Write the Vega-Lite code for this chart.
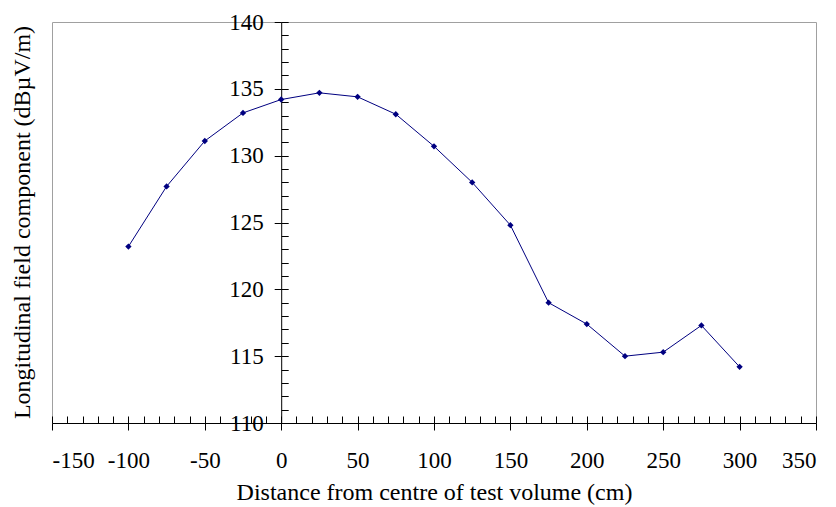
{
  "$schema": "https://vega.github.io/schema/vega-lite/v6.json",
  "width": 764,
  "height": 401,
  "autosize": "none",
  "padding": {"left": 52, "top": 22, "right": 20, "bottom": 84},
  "background": "white",
  "data": {
    "values": [
      {"distance": -100, "field": 123.2},
      {"distance": -75, "field": 127.7},
      {"distance": -50, "field": 131.1},
      {"distance": -25, "field": 133.2},
      {"distance": 0, "field": 134.2},
      {"distance": 25, "field": 134.7},
      {"distance": 50, "field": 134.4},
      {"distance": 75, "field": 133.1},
      {"distance": 100, "field": 130.7},
      {"distance": 125, "field": 128.0},
      {"distance": 150, "field": 124.8},
      {"distance": 175, "field": 119.0},
      {"distance": 200, "field": 117.4},
      {"distance": 225, "field": 115.0},
      {"distance": 250, "field": 115.3},
      {"distance": 275, "field": 117.3},
      {"distance": 300, "field": 114.2}
    ]
  },
  "layer": [
    {
      "mark": {"type": "line", "color": "#000080", "strokeWidth": 1},
      "encoding": {
        "x": {
          "field": "distance",
          "type": "quantitative",
          "scale": {"domain": [-150, 350], "nice": false},
          "axis": {
            "orient": "bottom",
            "values": [-150, -100, -50, 0, 50, 100, 150, 200, 250, 300, 350],
            "labelExpr": "'' + datum.value",
            "title": "Distance from centre of test volume (cm)",
            "tickSize": 7,
            "labelPadding": 19,
            "titlePadding": 8,
            "labelFont": "Liberation Serif",
            "labelFontSize": 23,
            "titleFont": "Liberation Serif",
            "titleFontSize": 24
          }
        },
        "y": {
          "field": "field",
          "type": "quantitative",
          "scale": {"domain": [110, 140], "nice": false, "zero": false},
          "axis": {
            "orient": "left",
            "offset": -229.2,
            "values": [110, 115, 120, 125, 130, 135, 140],
            "title": "Longitudinal field component (dBµV/m)",
            "tickSize": 7,
            "labelPadding": 11,
            "labelFont": "Liberation Serif",
            "labelFontSize": 23,
            "titleFont": "Liberation Serif",
            "titleFontSize": 24,
            "titleX": -259,
            "titleY": 200,
            "titleAngle": -90,
            "titleAlign": "center",
            "titleBaseline": "middle"
          }
        }
      }
    },
    {
      "mark": {"type": "point", "shape": "diamond", "filled": true, "color": "#000080", "size": 40, "opacity": 1},
      "encoding": {
        "x": {
          "field": "distance",
          "type": "quantitative",
          "axis": {
            "orient": "bottom",
            "values": [-150, -140, -130, -120, -110, -100, -90, -80, -70, -60, -50, -40, -30, -20, -10, 0, 10, 20, 30, 40, 50, 60, 70, 80, 90, 100, 110, 120, 130, 140, 150, 160, 170, 180, 190, 200, 210, 220, 230, 240, 250, 260, 270, 280, 290, 300, 310, 320, 330, 340, 350],
            "tickSize": -7,
            "labels": false,
            "domain": false,
            "title": null
          }
        },
        "y": {
          "field": "field",
          "type": "quantitative",
          "axis": {
            "orient": "left",
            "offset": -229.2,
            "values": [110, 111, 112, 113, 114, 115, 116, 117, 118, 119, 120, 121, 122, 123, 124, 125, 126, 127, 128, 129, 130, 131, 132, 133, 134, 135, 136, 137, 138, 139, 140],
            "tickSize": -7,
            "labels": false,
            "domain": false,
            "title": null
          }
        }
      }
    }
  ],
  "resolve": {"axis": {"x": "independent", "y": "independent"}},
  "config": {
    "font": "Liberation Serif",
    "view": {"stroke": "#a0a0a0", "strokeWidth": 1},
    "axis": {
      "grid": false,
      "domainColor": "#000000",
      "domainWidth": 1,
      "tickColor": "#000000",
      "tickWidth": 1,
      "labelColor": "#000000",
      "titleFontWeight": "normal",
      "titleColor": "#000000"
    }
  }
}
